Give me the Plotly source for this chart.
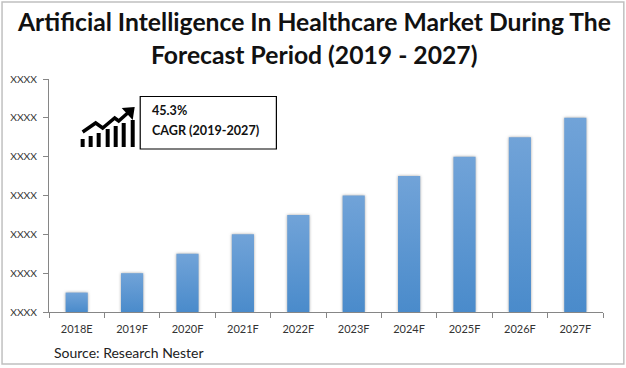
import plotly.graph_objects as go

categories = ["2018E","2019F","2020F","2021F","2022F","2023F","2024F","2025F","2026F","2027F"]
values = [0.5,1,1.5,2,2.5,3,3.5,4,4.5,5]
y_ticks = [0,1,2,3,4,5,6]
y_labels = ["XXXX"]*7
icon_bar_left = [81,89,97,106,114,122,131]
icon_bar_top = [139,136,133,129,126,123,120]

W,H = 626,368
L,R,T,B = 49.4,602.7,79,312
def px(x): return (x-L)/(R-L)
def py(y): return (B-y)/(B-T)

AX = "#868686"
fig = go.Figure(go.Bar(x=categories,y=values,width=0.4,marker=dict(color="#5b9bd5",line=dict(width=0))))

def path(points, close=False):
    s = " ".join(("M" if i==0 else "L")+" %f %f"%(px(x),py(y)) for i,(x,y) in enumerate(points))
    return s+(" Z" if close else "")

shapes = [
    dict(type="rect",xref="paper",yref="paper",x0=px(2.5),x1=px(623.5),y0=py(364),y1=py(2),
         line=dict(color="#c0c0c0",width=1.5),fillcolor="rgba(0,0,0,0)",layer="below"),
    dict(type="rect",xref="paper",yref="paper",x0=px(140.5),x1=px(276.5),y0=py(149),y1=py(96.5),
         line=dict(color="black",width=1.2),fillcolor="white"),
    dict(type="path",xref="paper",yref="paper",
         path=path([(83,132),(96,123),(103,128),(115,118),(119,121),(128,113)]),
         line=dict(color="black",width=3.5)),
    dict(type="path",xref="paper",yref="paper",
         path=path([(122,108),(135,107),(133,120)],True),
         line=dict(color="black",width=0),fillcolor="black"),
]
for x0,top in zip(icon_bar_left,icon_bar_top):
    shapes.append(dict(type="rect",xref="paper",yref="paper",x0=px(x0),x1=px(x0+4),y0=py(147),y1=py(top),
                       line=dict(width=0),fillcolor="black"))

TITLE = dict(family="Lato",size=24.7,color="#111111")
BOX = dict(family="Lato",size=12.6,color="#111111")
def note(text,x,y,font,anchor="left"):
    return dict(text=text,xref="paper",yref="paper",x=px(x),y=py(y),xanchor=anchor,yanchor="middle",
                showarrow=False,font=font)
annotations = [
    note("<b>Artificial Intelligence In Healthcare Market During The</b>",314,22,TITLE,"center"),
    note("<b>Forecast Period (2019 - 2027)</b>",314,55,TITLE,"center"),
    note("<b>45.3%</b>",150,110,BOX),
    note("<b>CAGR (2019-2027)</b>",150,130,BOX),
    note("Source: Research Nester",52,352,dict(family="Lato",size=14,color="#222222")),
]

fig.update_layout(
    width=W,height=H,autosize=False,paper_bgcolor="white",plot_bgcolor="white",showlegend=False,
    margin=dict(l=L,r=W-R,t=T,b=H-B,pad=0),shapes=shapes,annotations=annotations,
    font=dict(family="Lato",size=11,color="#333333"),
    xaxis=dict(type="category",tickson="boundaries",ticks="outside",ticklen=5,tickcolor=AX,linecolor=AX,showline=True,
               showgrid=False,tickfont=dict(size=11),automargin=False,ticklabelstandoff=7),
    yaxis=dict(range=[0,6],tickvals=y_ticks,ticktext=y_labels,ticks="outside",ticklen=5,tickcolor=AX,linecolor=AX,
               showline=True,showgrid=False,zeroline=False,tickfont=dict(size=10.3),automargin=False,ticklabelstandoff=4),
)

post = """
document.body.style.margin='0';
var svg=document.querySelector('.main-svg');
var ns='http://www.w3.org/2000/svg';
var defs=svg.querySelector('defs')||svg.appendChild(document.createElementNS(ns,'defs'));
var g=document.createElementNS(ns,'linearGradient');
g.setAttribute('id','barGrad');g.setAttribute('x1','0');g.setAttribute('y1','0');g.setAttribute('x2','0');g.setAttribute('y2','1');
[['0','#71a3d8'],['1','#4a8bcb']].forEach(function(s){var e=document.createElementNS(ns,'stop');e.setAttribute('offset',s[0]);e.setAttribute('stop-color',s[1]);g.appendChild(e);});
defs.appendChild(g);
document.querySelectorAll('.bars .point path').forEach(function(p){p.style.setProperty('fill','url(#barGrad)');p.style.filter='drop-shadow(0 0 1.5px rgba(90,90,90,0.55))';});
"""
fig.write_html("out.html",post_script=post,config={"displayModeBar":False})
